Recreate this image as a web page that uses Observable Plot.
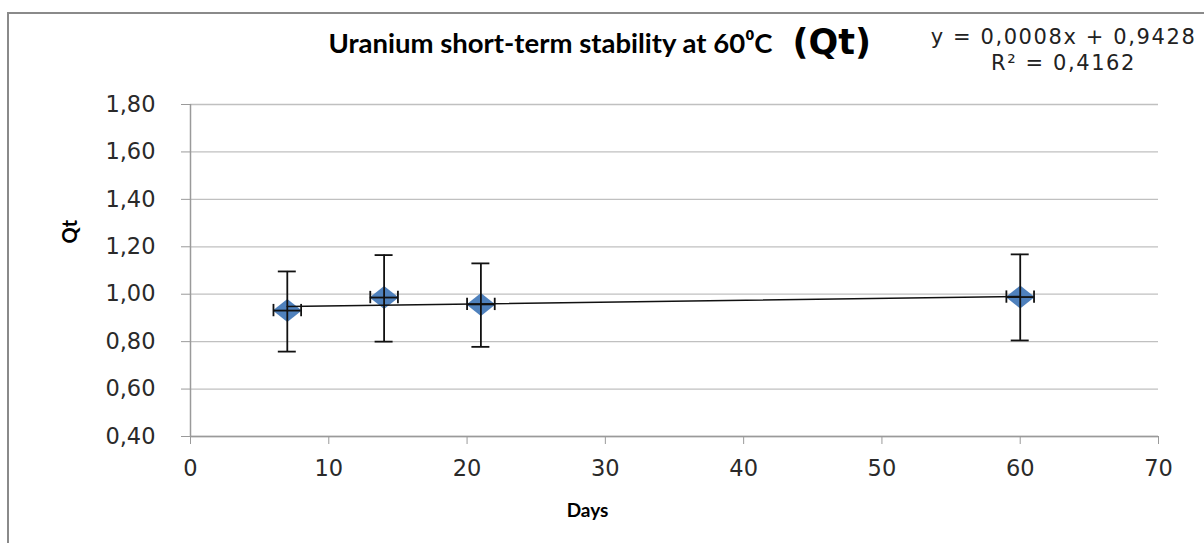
<!DOCTYPE html>
<html>
<head>
<meta charset="utf-8">
<script src="https://cdn.jsdelivr.net/npm/d3@7"></script>
<script src="https://cdn.jsdelivr.net/npm/@observablehq/plot@0.6"></script>
<style>
  html, body { margin: 0; padding: 0; background: #fff; overflow: hidden; }
  #wrap { position: relative; width: 1204px; height: 543px; overflow: hidden; }
  #border { position: absolute; left: 7px; top: 12px; width: 1400px; height: 800px; border: 2.5px solid #8a8a8a; box-sizing: border-box; }
  #chart { position: absolute; left: 0; top: 0; }
</style>
</head>
<body>
<div id="wrap"><div id="border"></div><div id="chart"></div></div>
<script>
// ---- data ----
const days = [7, 14, 21, 60];
const qt = [0.931, 0.986, 0.957, 0.988];
const qtLow = [0.758, 0.800, 0.778, 0.805];
const qtHigh = [1.096, 1.165, 1.130, 1.168];
const dayErr = [1, 1, 1, 1];
const yTicks = [0.4, 0.6, 0.8, 1.0, 1.2, 1.4, 1.6, 1.8];
const xTicks = [0, 10, 20, 30, 40, 50, 60, 70];
const slope = 0.0008, intercept = 0.9428;
const titleText = "Uranium short-term stability at 60\u2070C";
const titleQt = "(Qt)";
const eqText = "y = 0,0008x + 0,9428";
const r2Text = "R\u00B2 = 0,4162";
const xLabel = "Days";
const yLabel = "Qt";

const rows = days.map((d, i) => ({x: d, y: qt[i], lo: qtLow[i], hi: qtHigh[i], ex: dayErr[i]}));
const trend = [days[0], days[days.length - 1]].map(x => ({x, y: slope * x + intercept}));
const capX = 0.65, capY = 0.026;
const comma = d => d3.format(".2f")(d).replace(".", ",");

const diamond = {
  draw(ctx, size) {
    const w = 14.5, h = 11.5;
    ctx.moveTo(0, -h); ctx.lineTo(w, 0); ctx.lineTo(0, h); ctx.lineTo(-w, 0); ctx.closePath();
  }
};

const ink = "#111";
const chart = Plot.plot({
  width: 1204,
  height: 543,
  marginLeft: 190,
  marginRight: 46,
  marginTop: 104,
  marginBottom: 107,
  x: {domain: [0, 70]},
  y: {domain: [0.4, 1.8]},
  style: {background: "transparent", fontFamily: "DejaVu Sans"},
  marks: [
    Plot.ruleY(yTicks, {stroke: "#c0c0c0", strokeWidth: 1.3, strokeOpacity: 1}),
    Plot.ruleX([0], {stroke: "#9a9a9a", strokeWidth: 1.5}),
    Plot.ruleY([0.4], {stroke: "#9a9a9a", strokeWidth: 1.5}),
    Plot.axisY({ticks: yTicks, tickFormat: comma, tickSize: 9, tickPadding: 26, stroke: "#9a9a9a", fill: "#2a2a2a", fontSize: 22.5, label: null}),
    Plot.axisX({ticks: xTicks, tickSize: 8, tickPadding: 16, stroke: "#9a9a9a", fill: "#2a2a2a", fontSize: 22.5, label: null}),
    Plot.dot(rows, {x: "x", y: "y", symbol: diamond, r: 10, fill: "#4f81bd", stroke: "none"}),
    Plot.ruleX(rows, {x: "x", y1: "lo", y2: "hi", stroke: ink, strokeWidth: 1.8}),
    Plot.ruleY(rows, {y: "lo", x1: d => d.x - capX, x2: d => d.x + capX, stroke: ink, strokeWidth: 1.8}),
    Plot.ruleY(rows, {y: "hi", x1: d => d.x - capX, x2: d => d.x + capX, stroke: ink, strokeWidth: 1.8}),
    Plot.ruleY(rows, {y: "y", x1: d => d.x - d.ex, x2: d => d.x + d.ex, stroke: ink, strokeWidth: 1.8}),
    Plot.ruleX(rows, {x: d => d.x - d.ex, y1: d => d.y - capY, y2: d => d.y + capY, stroke: ink, strokeWidth: 1.8}),
    Plot.ruleX(rows, {x: d => d.x + d.ex, y1: d => d.y - capY, y2: d => d.y + capY, stroke: ink, strokeWidth: 1.8}),
    Plot.line(trend, {x: "x", y: "y", stroke: ink, strokeWidth: 1.5}),
    Plot.text([titleText], {frameAnchor: "top-left", lineAnchor: "middle", dx: 138, dy: -60, text: d => d, textAnchor: "start", fontSize: 27.5, fontWeight: "bold", fontFamily: "Lato", fill: "#000"}),
    Plot.text([titleQt], {frameAnchor: "top-left", lineAnchor: "middle", dx: 602, dy: -62, text: d => d, textAnchor: "start", fontSize: 35, fontWeight: "bold", fontFamily: "DejaVu Sans", fill: "#000"}),
    Plot.text([eqText + "\n" + r2Text], {frameAnchor: "top-left", lineAnchor: "top", lineHeight: 1.2, dx: 873, dy: -78, text: d => d, textAnchor: "middle", fontSize: 21, fontFamily: "DejaVu Sans", fill: "#222"}),
    Plot.text([xLabel], {frameAnchor: "bottom", lineAnchor: "middle", dx: -87, dy: 74, text: d => d, fontSize: 19, fontWeight: "bold", fontFamily: "Lato", fill: "#000"}),
    Plot.text([yLabel], {frameAnchor: "left", lineAnchor: "middle", dx: -120, dy: -27, text: d => d, rotate: -90, fontSize: 20, fontWeight: "bold", fontFamily: "Lato", fill: "#000"})
  ]
});
document.getElementById("chart").appendChild(chart);
// widen the regression-equation text (the reference font is wider)
d3.select(chart).selectAll("text").filter(function () { return this.textContent.includes("0,9428"); })
  .style("letter-spacing", "1.6px");
</script>
</body>
</html>
